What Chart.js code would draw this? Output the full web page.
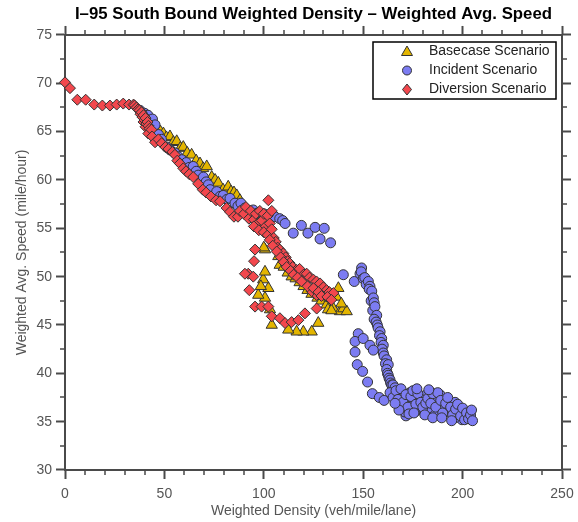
<!DOCTYPE html>
<html>
<head>
<meta charset="utf-8">
<title>I-95 South Bound Weighted Density - Weighted Avg. Speed</title>
<script src="https://cdn.jsdelivr.net/npm/chart.js@4.4.0/dist/chart.umd.min.js"></script>
<style>
  html, body { margin: 0; padding: 0; background: #fff; }
  #wrap { width: 578px; height: 522px; }
</style>
</head>
<body>
<div id="wrap"><canvas id="speedChart" width="578" height="522"></canvas></div>
<script>
// ---- data (density veh/mile/lane, speed mile/hour) ----
const xTicks = [0, 50, 100, 150, 200, 250];
const yTicks = [30, 35, 40, 45, 50, 55, 60, 65, 70, 75];

const baseX = [42.5, 44.5, 46.1, 48, 49.5, 51, 52.8, 54.5, 56.2, 58, 59.5, 61.5, 63.7, 66, 67.9, 69.5, 71.3, 73.8, 75.5, 77.1,
  79.5, 82.1, 83.5, 85, 86.4, 88, 89.5, 92, 95, 98, 101, 103, 105, 100.6, 107.3, 108, 110, 112, 114, 116,
  118, 120, 122, 124, 127, 129, 131.6, 132.3, 133, 135, 136.6, 137.5, 138.3, 140, 141.7, 139, 134, 127.4, 124.1, 119.9,
  116.5, 112.3, 104, 103.1, 100.6, 97.2, 102.3, 99.7, 100.6, 100, 98.5];
const baseY = [66.5, 66.0, 65.5, 65.0, 64.8, 64.4, 64.5, 63.9, 64.0, 63.3, 63.4, 62.8, 62.6, 62.0, 61.7, 61.2, 61.4, 60.3, 60.0, 59.7,
  59.0, 59.3, 58.8, 58.7, 58.4, 57.9, 57.2, 56.5, 56.0, 55.6, 55.0, 54.5, 53.8, 52.8, 52.1, 51.2, 51.0, 50.4, 50.0, 49.8,
  49.4, 49.0, 48.6, 48.2, 47.8, 47.5, 47.1, 46.6, 47.8, 46.7, 47.9, 48.8, 46.4, 46.7, 46.4, 47.2, 46.5, 45.2, 44.3, 44.3,
  44.3, 44.5, 45.0, 46.6, 47.8, 48.1, 48.8, 49.7, 50.5, 53.0, 49.0];

const incX = [37.7, 40, 41.7, 42.8, 44, 45.3, 47, 48.5, 51.2, 53, 55.3, 57, 58.7, 61, 62.5, 64.5, 66, 67, 69.6, 71,
  72.1, 73, 74.6, 76.3, 78, 79.6, 81.5, 83, 85.5, 87, 88.5, 90.5, 92.5, 94.7, 97, 100, 102.5, 105.6, 108, 109.5,
  110.7, 114.8, 118.9, 122.2, 125.8, 128.3, 130.4, 133.6, 140, 145.5, 149.2, 148.4, 149, 150, 150.8, 151.5, 152.6, 153.4, 153, 154.3,
  154, 155.1, 155.5, 154.8, 155.9, 156.8, 155.5, 156.5, 157.1, 157.5, 158.5, 158.2, 159.3, 159, 160.1, 159.5, 160.1, 160.5, 161.8, 161.2,
  162.6, 161.8, 162.2, 162.6, 163, 163.5, 163.8, 164.3, 165, 166, 147.5, 145.9, 150, 153.4, 155.1, 145.9, 147, 149.7, 152.2, 154.6,
  158.1, 160.5, 164.3, 171.5, 168.5, 171, 173.5, 176, 178.6, 181.1, 183.6, 186.1, 188.6, 191.1, 193.7, 196.2, 198.7, 201.2, 203.7, 202.7,
  199.7, 196.2, 192.7, 187.6, 183.6, 179.6, 176, 171, 168.5, 186.1, 190.1, 178.6, 174.5, 163.5, 165, 166.5, 167.5, 169, 170, 171.5,
  172.5, 174, 175, 176.5, 177.5, 179, 180, 181.5, 182.5, 184, 185, 186.5, 187.5, 189, 190, 191.5, 192.5, 194, 195, 196.5,
  197.5, 199, 200, 201, 202, 203, 204, 205, 204.5, 173, 175.5, 181, 185, 189.5, 194.5, 168, 166, 177, 183];
const incY = [67.2, 66.9, 66.7, 66.2, 66.3, 65.7, 64.7, 64.2, 63.4, 63.1, 62.8, 62.4, 62.1, 61.8, 61.3, 61.4, 60.9, 60.5, 60.3, 59.8,
  59.5, 59.0, 58.3, 58.8, 58.3, 58.4, 58.0, 58.1, 57.6, 57.3, 57.6, 57.1, 56.8, 56.9, 56.6, 56.5, 56.2, 56.2, 56.0, 55.8,
  55.5, 54.5, 55.3, 54.5, 55.1, 53.9, 55.0, 53.5, 50.2, 49.5, 50.9, 50.3, 50.5, 49.8, 49.9, 49.2, 49.5, 49.0, 48.7, 48.5,
  47.5, 47.8, 47.3, 46.5, 46.9, 46.0, 45.6, 45.3, 45.0, 44.7, 44.3, 43.9, 43.6, 43.2, 42.9, 42.5, 42.1, 41.8, 41.4, 41.0,
  40.9, 40.4, 40.0, 39.8, 39.5, 39.3, 39.0, 38.8, 38.8, 38.5, 44.1, 43.3, 43.6, 42.9, 42.4, 42.2, 40.9, 40.2, 39.1, 37.9,
  37.5, 37.2, 37.8, 35.6, 37.8, 37.2, 38.0, 37.2, 36.7, 37.7, 38.1, 37.2, 37.8, 36.7, 36.2, 37.0, 35.9, 35.6, 35.4, 36.0,
  35.2, 35.4, 36.0, 36.2, 36.4, 36.2, 36.0, 36.0, 36.7, 35.7, 36.4, 37.4, 36.7, 38.0, 37.5, 38.2, 37.3, 38.4, 37.0, 37.8,
  36.5, 37.6, 38.2, 36.8, 37.9, 37.0, 36.5, 36.9, 37.4, 36.9, 37.9, 36.5, 38.0, 37.2, 35.9, 36.9, 37.5, 36.5, 35.7, 36.3,
  36.8, 35.6, 36.4, 35.2, 35.9, 35.3, 35.7, 35.1, 36.2, 35.8, 35.9, 35.7, 35.4, 35.4, 35.1, 36.2, 36.9, 38.4, 38.3];

const divX = [0, 2.5, 6.2, 10.4, 14.7, 18.8, 22.6, 26, 29.3, 32.2, 34.5, 35, 36, 36.8, 37.5, 38, 38.5, 39, 39.5, 39.5,
  40, 40.5, 40.5, 41, 41.5, 42, 42.5, 41.9, 43.5, 43.8, 45.3, 47, 48.6, 50.5, 52, 54, 55.3, 56.5, 57.8, 59.5,
  60.9, 62.5, 64.5, 67, 69.3, 71, 73.4, 76, 78, 81.3, 83, 85, 87, 88, 90, 91, 92.5, 93.5, 95, 96,
  97, 98, 99, 100, 101, 102, 103, 104, 102.3, 95, 97.5, 100, 102, 104, 105, 106, 107, 108, 109.8, 111,
  112, 113, 114.5, 116.5, 118, 120, 121.6, 123, 124.9, 126.5, 128.3, 130, 131.6, 133, 135, 126.6, 124, 119, 103, 104.5,
  106.5, 108.5, 110, 111.5, 113.5, 115, 117, 119, 122, 125, 127.5, 129, 132, 134, 95.6, 95.1, 92.2, 94.7, 90.5, 92.7,
  95.6, 98.9, 102.3, 104, 108.1, 110.7, 114, 117.4, 120.7, 126.6];
const divY = [70.1, 69.5, 68.3, 68.3, 67.8, 67.7, 67.7, 67.8, 67.9, 67.8, 67.8, 67.7, 67.5, 67.3, 67.2, 66.8, 67.0, 66.5, 66.7, 66.0,
  66.2, 66.4, 65.5, 65.8, 66.0, 65.6, 65.3, 64.8, 65.2, 64.5, 63.9, 64.2, 63.8, 63.4, 63.2, 62.9, 62.6, 62.0, 61.7, 61.2,
  60.9, 60.6, 60.3, 59.6, 59.0, 58.7, 58.3, 57.9, 57.8, 57.1, 56.7, 56.2, 56.2, 56.8, 56.5, 57.2, 56.0, 56.8, 55.9, 56.5,
  55.5, 56.8, 55.8, 56.5, 55.2, 56.3, 55.5, 56.8, 57.9, 55.2, 54.8, 54.6, 54.3, 54.9, 54.0, 53.6, 53.0, 52.8, 52.4, 52.0,
  51.6, 51.4, 51.0, 50.7, 50.8, 50.2, 50.3, 49.9, 49.7, 49.5, 49.3, 48.9, 48.6, 48.4, 48.3, 48.1, 48.5, 49.6, 53.8, 53.2,
  52.6, 52.0, 51.5, 51.0, 50.6, 50.2, 49.9, 49.5, 49.0, 48.8, 48.4, 48.0, 47.9, 47.6, 52.8, 51.6, 50.3, 50.0, 50.3, 48.6,
  46.9, 46.9, 46.9, 45.9, 45.7, 45.2, 45.3, 45.5, 46.2, 46.7];

const toPoints = (xs, ys) => xs.map((x, i) => ({ x: x, y: ys[i] }));

// minor tick positions between the labelled ones
const xMinor = [];
for (let v = 0; v <= 250; v += 10) if (v % 50 !== 0) xMinor.push(v);
const yMinor = [];
for (let v = 30; v < 75; v += 5) yMinor.push(v + 2.5);

const axisColor = '#4a4a4a';
const fontFamily = "'Liberation Sans', Arial, sans-serif";

const series = [
  { label: 'Basecase Scenario', fill: '#E3B500', style: 'triangle', radius: 6.5 },
  { label: 'Incident Scenario', fill: '#7C7CF2', style: 'circle', radius: 5 },
  { label: 'Diversion Scenario', fill: '#F2474D', style: 'rectRot', radius: 5.5 }
];

function frameScale(position, min, max, step, withLabels, pad) {
  return {
    type: 'linear',
    position: position,
    min: min,
    max: max,
    ticks: {
      display: withLabels,
      stepSize: step,
      color: '#555',
      font: { family: fontFamily, size: 14 },
      padding: pad,
      maxRotation: 0
    },
    grid: { drawOnChartArea: false, drawTicks: true, tickLength: 9, tickWidth: 2, tickColor: axisColor },
    border: { display: true, color: axisColor, width: 2 }
  };
}

const xScale = frameScale('bottom', 0, 250, 50, true, 7);
xScale.title = { display: true, text: 'Weighted Density (veh/mile/lane)', color: '#555',
  font: { family: fontFamily, size: 14 }, padding: { top: 0, bottom: 2 } };
xScale.afterFit = s => {
  s.height = 52;
  s.paddingRight = Math.min(s.paddingRight, 14); // let "250" hang into the right margin
};

const yScale = frameScale('left', 30, 75, 5, true, 4);
yScale.title = { display: true, text: 'Weighted Avg. Speed (mile/hour)', color: '#555',
  font: { family: fontFamily, size: 14 }, padding: { top: 13.5, bottom: 0 } };
yScale.afterFit = s => { s.width = 65; };

const x2Scale = frameScale('top', 0, 250, 50, false, 0);
x2Scale.afterFit = s => { s.height = 10.3; };

const y2Scale = frameScale('right', 30, 75, 5, false, 0);
y2Scale.afterFit = s => { s.width = 16; };

// minor ticks on all four sides, outward like the major ones
const minorTicks = {
  id: 'minorTicks',
  afterDraw(chart) {
    const ctx = chart.ctx;
    const { left, right, top, bottom } = chart.chartArea;
    ctx.save();
    ctx.strokeStyle = axisColor;
    ctx.lineWidth = 1.5;
    ctx.beginPath();
    xMinor.forEach(v => {
      const px = Math.round(chart.scales.x.getPixelForValue(v));
      ctx.moveTo(px, bottom); ctx.lineTo(px, bottom + 5);
      ctx.moveTo(px, top); ctx.lineTo(px, top - 5);
    });
    yMinor.forEach(v => {
      const py = Math.round(chart.scales.y.getPixelForValue(v));
      ctx.moveTo(left, py); ctx.lineTo(left - 5, py);
      ctx.moveTo(right, py); ctx.lineTo(right + 5, py);
    });
    ctx.stroke();
    ctx.restore();
  }
};

// boxed legend in the upper right corner of the plot
function drawMarker(ctx, style, x, y) {
  ctx.beginPath();
  if (style === 'triangle') {
    ctx.moveTo(x, y - 5.5);
    ctx.lineTo(x + 5.5, y + 4);
    ctx.lineTo(x - 5.5, y + 4);
    ctx.closePath();
  } else if (style === 'circle') {
    ctx.arc(x, y, 4.5, 0, Math.PI * 2);
  } else {
    ctx.moveTo(x, y - 5.5);
    ctx.lineTo(x + 4.5, y);
    ctx.lineTo(x, y + 5.5);
    ctx.lineTo(x - 4.5, y);
    ctx.closePath();
  }
  ctx.fill();
  ctx.stroke();
}

const boxLegend = {
  id: 'boxLegend',
  afterDraw(chart) {
    const ctx = chart.ctx;
    const bx = 373, by = 42, bw = 183, bh = 57;
    ctx.save();
    ctx.fillStyle = '#fff';
    ctx.fillRect(bx, by, bw, bh);
    ctx.strokeStyle = '#000';
    ctx.lineWidth = 1.5;
    ctx.strokeRect(bx, by, bw, bh);
    ctx.font = '14px ' + fontFamily;
    ctx.textBaseline = 'middle';
    series.forEach((s, i) => {
      const y = by + 9.5 + i * 19;
      ctx.fillStyle = s.fill;
      ctx.strokeStyle = '#333';
      ctx.lineWidth = 1;
      drawMarker(ctx, s.style, 407, y);
      ctx.fillStyle = '#222';
      ctx.fillText(s.label, 429, y);
    });
    ctx.restore();
  }
};

const allX = [baseX, incX, divX];
const allY = [baseY, incY, divY];

const ctx = document.getElementById('speedChart').getContext('2d');
const chart = new Chart(ctx, {
  type: 'scatter',
  data: {
    datasets: series.map((s, i) => ({
      label: s.label,
      data: toPoints(allX[i], allY[i]),
      pointStyle: s.style,
      pointRadius: s.radius,
      backgroundColor: s.fill,
      borderColor: '#333',
      borderWidth: 1,
      clip: false,
      order: 3 - i
    }))
  },
  options: {
    responsive: false,
    animation: false,
    devicePixelRatio: 1,
    layout: { padding: 0 },
    scales: { x: xScale, y: yScale, x2: x2Scale, y2: y2Scale },
    plugins: {
      legend: { display: false },
      tooltip: { enabled: false },
      title: {
        display: true,
        fullSize: false, // centre over the plot area, not the whole canvas
        text: 'I\u201395 South Bound Weighted Density \u2013 Weighted Avg. Speed',
        color: '#000',
        font: { family: fontFamily, size: 16.8, weight: 'bold' },
        padding: { top: 4.5, bottom: 0 }
      }
    }
  },
  plugins: [minorTicks, boxLegend]
});
</script>
</body>
</html>
